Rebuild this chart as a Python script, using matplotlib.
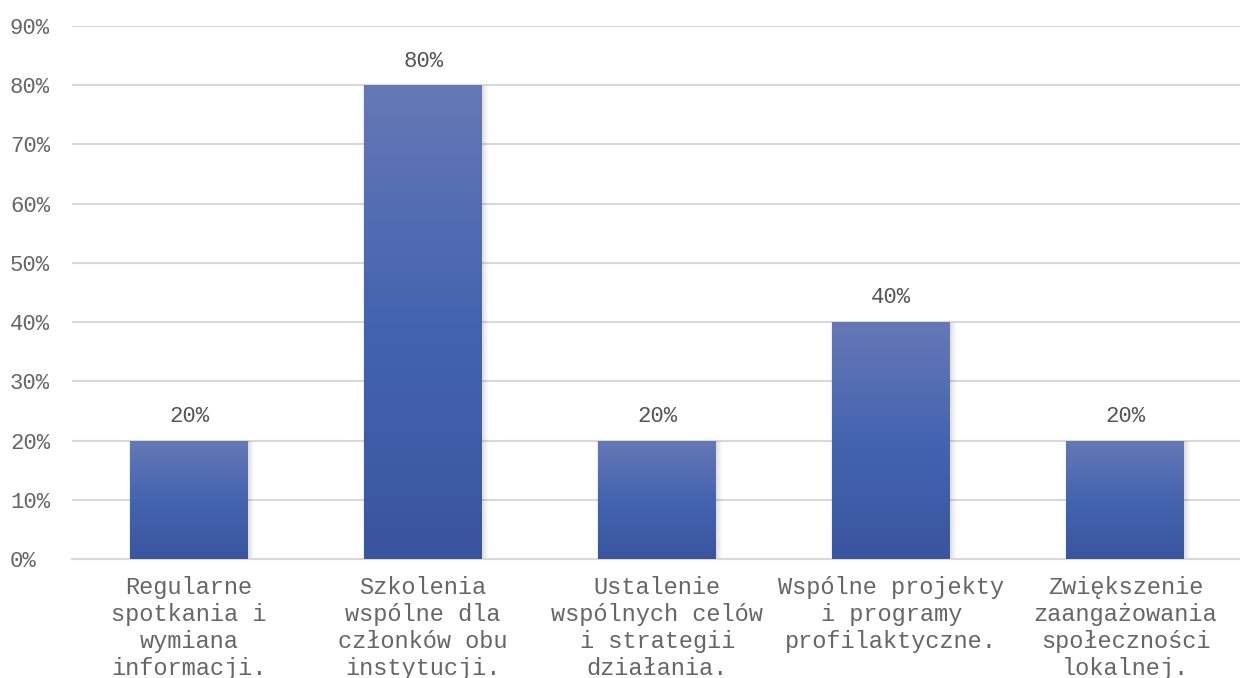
import matplotlib
matplotlib.use("Agg")
import matplotlib.pyplot as plt
import numpy as np
from matplotlib.colors import LinearSegmentedColormap
from matplotlib.patches import Rectangle

categories = [
    "Regularne\nspotkania i\nwymiana\ninformacji.",
    "Szkolenia\nwspólne dla\nczłonków obu\ninstytucji.",
    "Ustalenie\nwspólnych celów\ni strategii\ndziałania.",
    "Wspólne projekty\ni programy\nprofilaktyczne.",
    "Zwiększenie\nzaangażowania\nspołeczności\nlokalnej.",
]
values = [20, 80, 20, 40, 20]
yticks = [0, 10, 20, 30, 40, 50, 60, 70, 80, 90]

plt.rcParams['font.family'] = ['Liberation Mono', 'DejaVu Sans Mono']

fig = plt.figure(figsize=(12.4, 6.78), dpi=100)
ax = fig.add_axes([0.058, 0.1755, 0.944, 0.7862])

x = np.arange(len(values))
bw = 0.504
cmap = LinearSegmentedColormap.from_list("g", [(0, "#3a559f"), (0.5, "#4464b0"), (1, "#6678b6")])
grad = np.linspace(1, 0, 256).reshape(-1, 1)

bars = ax.bar(x, values, width=bw, color="none", zorder=3)
for b in bars:
    x0, y0 = b.get_x(), b.get_y()
    w, h = b.get_width(), b.get_height()
    # soft shadow
    for i, a in enumerate([0.05, 0.04, 0.03]):
        dx = 0.006 * (i + 1)
        dy = 0.12 * (i + 1)
        ax.add_patch(Rectangle((x0 - dx * 0.3, y0 - dy), w + dx * 1.6, h + dy * 0.6,
                               facecolor="black", alpha=a, edgecolor="none", zorder=2))
    im = ax.imshow(grad, extent=[x0, x0 + w, y0, y0 + h], aspect="auto", cmap=cmap,
                   vmin=0, vmax=1, zorder=3, interpolation="bilinear")
    im.set_clip_path(b)

for xi, v in zip(x, values):
    ax.text(xi, v + 2.3, f"{v}%", ha="center", va="bottom", fontsize=16, color="#555555", zorder=4)

ax.set_xlim(-0.5, len(values) - 0.5)
ax.set_ylim(0, 90)
ax.set_yticks(yticks)
ax.set_yticklabels([f"{t}%" for t in yticks], fontsize=16, color="#666666", ha="left")
ax.set_xticks(x)
ax.set_xticklabels(categories, fontsize=17, color="#666666", linespacing=1.22, ha="center",
                   multialignment="center")
ax.tick_params(axis="both", length=0)
ax.tick_params(axis="x", pad=12)
ax.tick_params(axis="y", pad=44.6)

ax.grid(axis="y", color="#d9d9d9", linewidth=1.5, zorder=0)
ax.set_axisbelow(True)
for s in ["top", "right", "left"]:
    ax.spines[s].set_visible(False)
ax.spines["bottom"].set_color("#d9d9d9")
ax.spines["bottom"].set_linewidth(1.5)

fig.savefig("out.png", dpi=100, facecolor="white")
